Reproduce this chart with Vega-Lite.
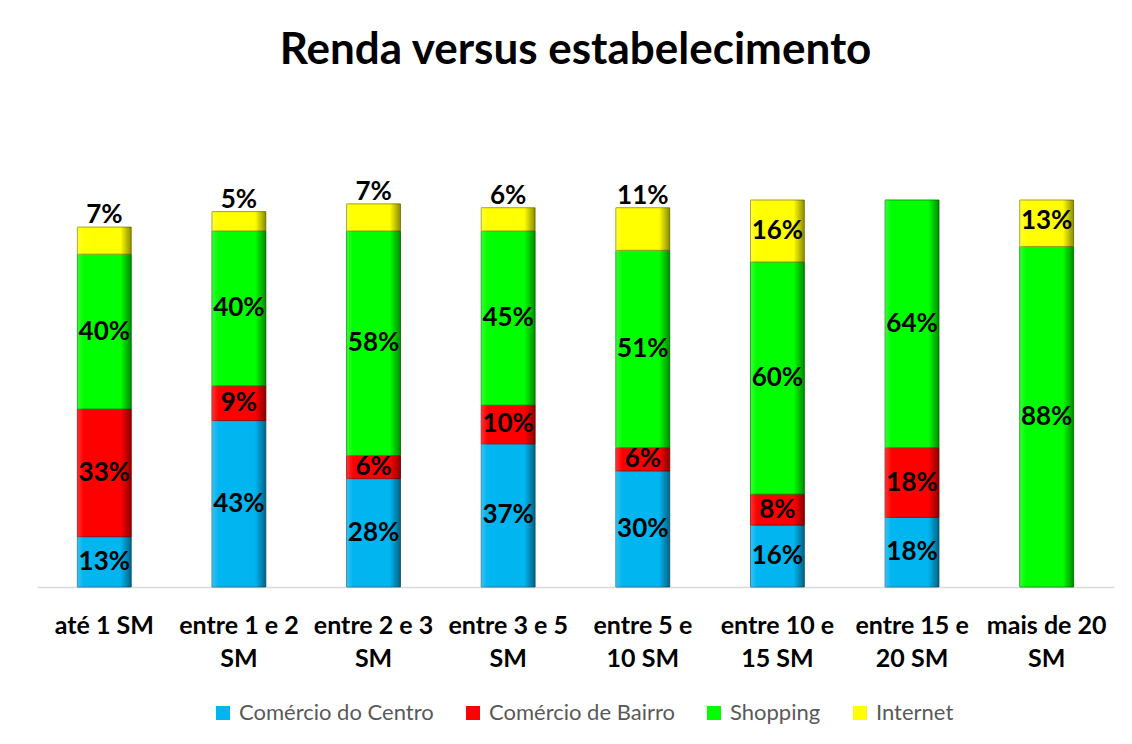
{
  "$schema": "https://vega.github.io/schema/vega-lite/v6.json",
  "width": 1077,
  "height": 387,
  "autosize": {"type": "none"},
  "padding": {"left": 37, "top": 200, "right": 18, "bottom": 157},
  "background": "white",
  "config": {"view": {"stroke": null}, "font": "Lato"},
  "title": {
    "text": "Renda versus estabelecimento",
    "font": "Lato",
    "fontSize": 44,
    "fontWeight": "bold",
    "color": "black",
    "anchor": "middle",
    "baseline": "alphabetic",
    "offset": 71
  },
  "data": {
    "values": [
      {"cat": "até 1 SM", "series": "Comércio do Centro", "value": 0.13},
      {"cat": "até 1 SM", "series": "Comércio de Bairro", "value": 0.33},
      {"cat": "até 1 SM", "series": "Shopping", "value": 0.40},
      {"cat": "até 1 SM", "series": "Internet", "value": 0.07},
      {"cat": "entre 1 e 2 SM", "series": "Comércio do Centro", "value": 0.43},
      {"cat": "entre 1 e 2 SM", "series": "Comércio de Bairro", "value": 0.09},
      {"cat": "entre 1 e 2 SM", "series": "Shopping", "value": 0.40},
      {"cat": "entre 1 e 2 SM", "series": "Internet", "value": 0.05},
      {"cat": "entre 2 e 3 SM", "series": "Comércio do Centro", "value": 0.28},
      {"cat": "entre 2 e 3 SM", "series": "Comércio de Bairro", "value": 0.06},
      {"cat": "entre 2 e 3 SM", "series": "Shopping", "value": 0.58},
      {"cat": "entre 2 e 3 SM", "series": "Internet", "value": 0.07},
      {"cat": "entre 3 e 5 SM", "series": "Comércio do Centro", "value": 0.37},
      {"cat": "entre 3 e 5 SM", "series": "Comércio de Bairro", "value": 0.10},
      {"cat": "entre 3 e 5 SM", "series": "Shopping", "value": 0.45},
      {"cat": "entre 3 e 5 SM", "series": "Internet", "value": 0.06},
      {"cat": "entre 5 e 10 SM", "series": "Comércio do Centro", "value": 0.30},
      {"cat": "entre 5 e 10 SM", "series": "Comércio de Bairro", "value": 0.06},
      {"cat": "entre 5 e 10 SM", "series": "Shopping", "value": 0.51},
      {"cat": "entre 5 e 10 SM", "series": "Internet", "value": 0.11},
      {"cat": "entre 10 e 15 SM", "series": "Comércio do Centro", "value": 0.16},
      {"cat": "entre 10 e 15 SM", "series": "Comércio de Bairro", "value": 0.08},
      {"cat": "entre 10 e 15 SM", "series": "Shopping", "value": 0.60},
      {"cat": "entre 10 e 15 SM", "series": "Internet", "value": 0.16},
      {"cat": "entre 15 e 20 SM", "series": "Comércio do Centro", "value": 0.18},
      {"cat": "entre 15 e 20 SM", "series": "Comércio de Bairro", "value": 0.18},
      {"cat": "entre 15 e 20 SM", "series": "Shopping", "value": 0.64},
      {"cat": "mais de 20 SM", "series": "Shopping", "value": 0.88},
      {"cat": "mais de 20 SM", "series": "Internet", "value": 0.13}
    ]
  },
  "transform": [{"stack": "value", "groupby": ["cat"], "as": ["v0", "v1"]}],
  "encoding": {
    "x": {
      "field": "cat",
      "type": "nominal",
      "sort": null,
      "scale": {"paddingInner": 0.6, "paddingOuter": 0.3},
      "axis": {
        "title": null,
        "ticks": false,
        "domainColor": "#d9d9d9",
        "domainWidth": 1.5,
        "labelFont": "Lato",
        "labelFontSize": 25,
        "labelFontWeight": "bold",
        "labelColor": "black",
        "labelAngle": 0,
        "labelPadding": 26,
        "labelLineHeight": 33,
        "labelBaseline": "top",
        "labelLimit": 300,
        "labelOverlap": false,
        "labelExpr": "length(datum.value) > 11 ? [slice(datum.value, 0, lastindexof(slice(datum.value, 0, 12), ' ')), slice(datum.value, lastindexof(slice(datum.value, 0, 12), ' ') + 1)] : datum.value"
      }
    }
  },
  "layer": [
    {
      "mark": {"type": "bar", "strokeWidth": 1},
      "encoding": {
        "y": {"field": "v0", "type": "quantitative", "scale": {"domain": [0, 1], "clamp": true}, "axis": null},
        "y2": {"field": "v1"},
        "color": {
          "field": "series",
          "type": "nominal",
          "scale": {
            "domain": ["Comércio do Centro", "Comércio de Bairro", "Shopping", "Internet"],
            "range": ["#00B5F0", "#FF0000", "#00FF00", "#FFFF00"]
          },
          "legend": {
            "orient": "none",
            "legendX": 175,
            "legendY": 502,
            "direction": "horizontal",
            "title": null,
            "symbolType": "square",
            "symbolSize": 196,
            "symbolStrokeWidth": 0,
            "labelFont": "Lato",
            "labelFontSize": 22,
            "labelColor": "#595959",
            "labelLimit": 400,
            "columnPadding": 28,
            "labelOffset": 5,
            "padding": 0
          }
        },
        "stroke": {
          "field": "series",
          "type": "nominal",
          "scale": {
            "domain": ["Comércio do Centro", "Comércio de Bairro", "Shopping", "Internet"],
            "range": ["#2a7fa0", "#a01010", "#10a010", "#a0a020"]
          },
          "legend": null
        }
      }
    },
    {
      "mark": {
        "type": "bar",
        "fill": {
          "gradient": "linear",
          "x1": 0, "y1": 0, "x2": 1, "y2": 0,
          "stops": [
            {"offset": 0, "color": "rgba(255,255,255,0.2)"},
            {"offset": 0.12, "color": "rgba(255,255,255,0)"},
            {"offset": 0.8, "color": "rgba(0,0,0,0)"},
            {"offset": 1, "color": "rgba(0,0,0,0.45)"}
          ]
        }
      },
      "encoding": {
        "y": {"field": "v0", "type": "quantitative"},
        "y2": {"field": "v1"}
      }
    },
    {
      "mark": {"type": "text", "font": "Lato", "fontSize": 26, "fontWeight": "bold", "color": "black", "baseline": "middle"},
      "encoding": {
        "y": {"field": "value", "type": "quantitative", "stack": "zero", "bandPosition": 0.5},
        "order": {"field": "v0", "type": "quantitative"},
        "detail": {"field": "series"},
        "text": {
          "condition": {"test": "datum.series === 'Internet' && datum.value < 0.12", "value": ""},
          "field": "value",
          "type": "quantitative",
          "format": ".0%"
        }
      }
    },
    {
      "transform": [{"filter": "datum.series === 'Internet' && datum.value < 0.12"}],
      "mark": {"type": "text", "font": "Lato", "fontSize": 26, "fontWeight": "bold", "color": "black", "baseline": "alphabetic", "dy": -4},
      "encoding": {
        "y": {"field": "v1", "type": "quantitative"},
        "text": {"field": "value", "type": "quantitative", "format": ".0%"}
      }
    }
  ]
}
